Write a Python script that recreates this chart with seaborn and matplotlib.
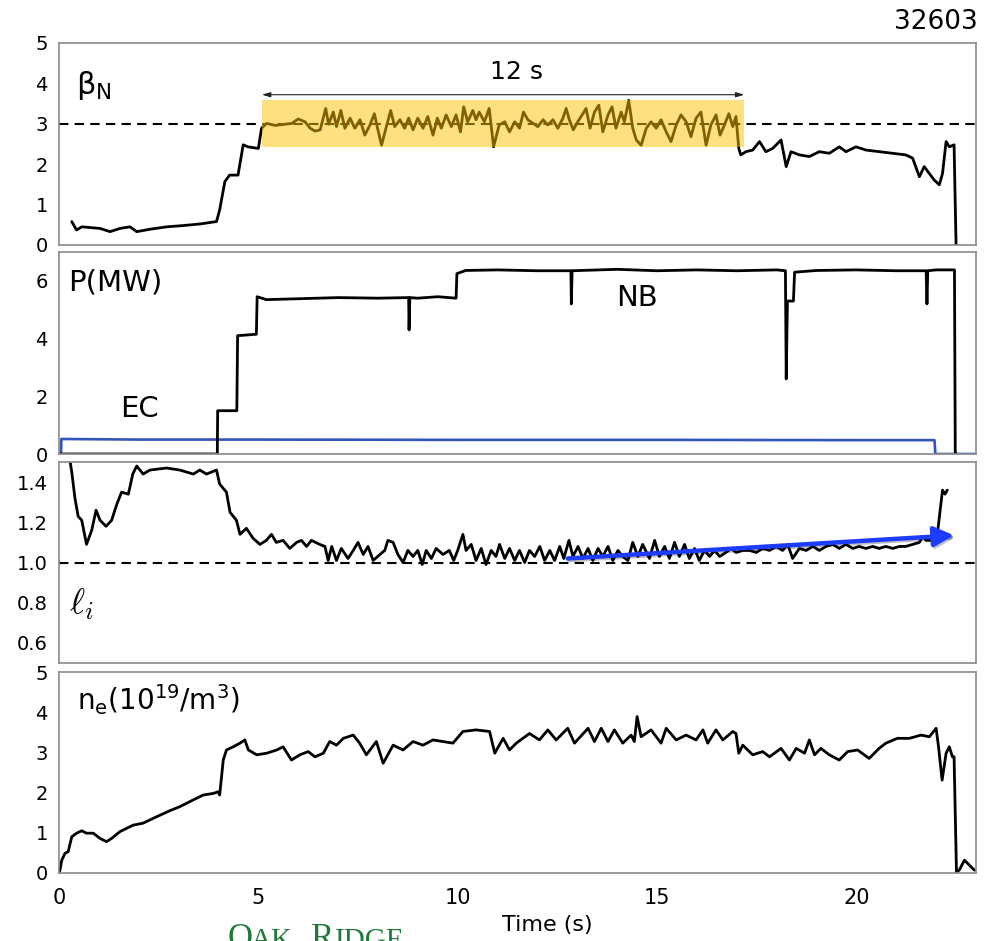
import matplotlib
matplotlib.use("Agg")
import matplotlib.pyplot as plt
import seaborn as sns
from matplotlib.patches import Rectangle
import matplotlib.patheffects as pe

# ---------------- data ----------------
t_beta = [0.32, 0.44, 0.57, 0.80, 1.03, 1.28, 1.53, 1.78, 1.95, 2.28, 2.70, 3.10, 3.53, 3.95,
          4.03, 4.16, 4.28, 4.49, 4.62, 4.74, 5.00, 5.08, 5.21, 5.42, 5.67, 5.84, 6.00, 6.17,
          6.30, 6.42, 6.55, 6.69, 6.76, 6.88, 6.96, 7.07, 7.17, 7.30, 7.42, 7.55, 7.67, 7.80,
          7.91, 7.99, 8.09, 8.20, 8.32, 8.42, 8.55, 8.67, 8.77, 8.88, 9.00, 9.13, 9.25, 9.38,
          9.49, 9.59, 9.71, 9.84, 9.96, 10.07, 10.15, 10.25, 10.38, 10.46, 10.54, 10.67, 10.79,
          10.90, 11.04, 11.18, 11.30, 11.43, 11.55, 11.65, 11.76, 11.89, 12.01, 12.14, 12.26,
          12.39, 12.51, 12.64, 12.72, 12.80, 12.90, 13.01, 13.14, 13.22, 13.32, 13.43, 13.54,
          13.64, 13.77, 13.87, 13.97, 14.10, 14.18, 14.29, 14.39, 14.48, 14.60, 14.73, 14.85,
          14.98, 15.10, 15.23, 15.35, 15.48, 15.60, 15.73, 15.85, 15.98, 16.10, 16.23, 16.35,
          16.48, 16.58, 16.69, 16.80, 16.90, 16.98, 17.05, 17.10, 17.23, 17.40, 17.57, 17.73,
          17.90, 18.11, 18.24, 18.36, 18.57, 18.82, 19.07, 19.32, 19.57, 19.74, 19.99, 20.24,
          20.57, 20.91, 21.24, 21.41, 21.58, 21.70, 21.83, 21.95, 22.08, 22.16, 22.25, 22.33,
          22.45, 22.50]
beta_n = [0.58, 0.37, 0.45, 0.43, 0.41, 0.33, 0.41, 0.45, 0.33, 0.39, 0.45, 0.48, 0.52, 0.58,
          0.87, 1.57, 1.73, 1.73, 2.48, 2.43, 2.39, 2.89, 3.01, 2.96, 2.99, 3.01, 3.12, 3.05,
          2.89, 2.82, 2.85, 3.38, 2.99, 3.29, 2.93, 3.33, 2.89, 3.14, 2.89, 3.10, 2.72, 2.97,
          3.25, 2.89, 2.47, 2.89, 3.33, 2.93, 3.10, 2.89, 3.14, 2.85, 3.14, 2.89, 3.18, 2.72,
          3.14, 2.89, 3.22, 2.93, 3.22, 2.80, 3.42, 3.05, 3.33, 3.10, 3.29, 3.05, 3.38,
          2.43, 2.97, 3.05, 2.80, 3.05, 2.89, 3.29, 3.10, 3.01, 2.93, 3.10, 2.97,
          3.10, 2.89, 3.14, 3.38, 3.10, 2.85, 3.05, 3.25, 3.38, 2.89, 3.29, 3.46,
          2.80, 3.22, 3.42, 2.89, 3.29, 3.05, 3.58, 2.89, 2.60, 2.47, 2.89, 3.05,
          2.89, 3.10, 2.80, 2.56, 2.97, 3.22, 3.05, 2.68, 3.14, 3.29, 2.47, 2.97,
          3.22, 2.72, 2.97, 3.25, 2.93, 3.18, 2.39, 2.23, 2.31, 2.35, 2.56, 2.31,
          2.39, 2.60, 1.94, 2.31, 2.23, 2.19, 2.31, 2.27, 2.43, 2.31, 2.43, 2.35,
          2.31, 2.27, 2.23, 2.15, 1.69, 1.94, 1.77, 1.61, 1.49, 1.77, 2.56, 2.43,
          2.48, 0.0]

t_nb = [0.0, 3.97, 3.98, 4.46, 4.48, 4.95, 4.97, 5.2, 6.0, 7.0, 8.0, 8.77, 8.78, 8.80, 9.0,
        9.5, 9.96, 9.98, 10.2, 11.0, 12.0, 12.84, 12.85, 12.87, 14.0, 15.0, 16.0, 17.0, 18.0,
        18.22, 18.24, 18.27, 18.42, 18.45, 19.0, 20.0, 21.0, 21.75, 21.77, 21.79, 22.0, 22.46,
        22.48, 22.50]
p_nb = [0.0, 0.0, 1.5, 1.5, 4.1, 4.15, 5.45, 5.35, 5.38, 5.42, 5.40, 5.42, 4.3, 5.42, 5.40,
        5.45, 5.40, 6.25, 6.36, 6.38, 6.35, 6.35, 5.2, 6.35, 6.40, 6.35, 6.38, 6.35, 6.38,
        6.35, 2.6, 5.3, 5.3, 6.3, 6.36, 6.38, 6.35, 6.35, 5.2, 6.35, 6.38, 6.38, 0.0, 0.0]

t_ec = [0.0, 0.05, 0.06, 2.0, 5.0, 10.0, 15.0, 20.0, 21.96, 21.98, 23.0]
p_ec = [0.0, 0.0, 0.52, 0.50, 0.50, 0.49, 0.49, 0.48, 0.48, 0.0, 0.0]

t_li = [0.28, 0.32, 0.40, 0.48, 0.57, 0.69, 0.82, 0.93, 1.03, 1.18, 1.32, 1.45, 1.57, 1.74,
        1.85, 1.95, 2.11, 2.28, 2.70, 3.03, 3.37, 3.53, 3.70, 3.95, 4.03, 4.20, 4.29, 4.45,
        4.54, 4.70, 4.87, 5.04, 5.20, 5.33, 5.45, 5.62, 5.79, 5.96, 6.08, 6.21, 6.33, 6.54,
        6.67, 6.75, 6.84, 6.96, 7.08, 7.25, 7.38, 7.50, 7.63, 7.75, 7.88, 8.05, 8.17, 8.25,
        8.38, 8.50, 8.63, 8.75, 8.88, 9.00, 9.11, 9.21, 9.34, 9.46, 9.63, 9.79, 9.90, 10.00,
        10.13, 10.21, 10.34, 10.46, 10.59, 10.71, 10.84, 10.96, 11.05, 11.18, 11.30, 11.43,
        11.55, 11.68, 11.80, 11.93, 12.06, 12.18, 12.31, 12.43, 12.56, 12.66, 12.79, 12.89,
        13.02, 13.14, 13.27, 13.39, 13.52, 13.64, 13.77, 13.89, 14.02, 14.14, 14.27, 14.39,
        14.52, 14.64, 14.81, 14.94, 15.06, 15.19, 15.31, 15.44, 15.56, 15.69, 15.81, 15.94,
        16.06, 16.19, 16.32, 16.44, 16.57, 16.73, 16.86, 16.98, 17.15, 17.32, 17.49, 17.65,
        17.82, 17.99, 18.15, 18.28, 18.40, 18.57, 18.74, 18.91, 19.07, 19.24, 19.41, 19.57,
        19.74, 19.91, 20.07, 20.24, 20.41, 20.57, 20.74, 20.91, 21.08, 21.24, 21.41, 21.58,
        21.66, 21.75, 21.91, 21.99, 22.03, 22.16, 22.22, 22.28]
li = [1.50, 1.45, 1.32, 1.23, 1.21, 1.09, 1.16, 1.26, 1.21, 1.18, 1.21, 1.29, 1.35, 1.34,
      1.44, 1.48, 1.44, 1.46, 1.47, 1.46, 1.44, 1.46, 1.44, 1.46, 1.39, 1.35, 1.25, 1.21,
      1.14, 1.17, 1.12, 1.09, 1.11, 1.14, 1.10, 1.11, 1.07, 1.10, 1.11, 1.08, 1.11, 1.09,
      1.08, 1.01, 1.08, 1.01, 1.07, 1.02, 1.06, 1.10, 1.04, 1.08, 1.01, 1.04, 1.06, 1.11,
      1.10, 1.04, 1.00, 1.06, 1.03, 1.06, 0.99, 1.06, 1.02, 1.07, 1.04, 1.06, 1.01, 1.06,
      1.14, 1.06, 1.09, 1.01, 1.07, 0.99, 1.06, 1.03, 1.09, 1.02, 1.07, 1.01,
      1.06, 1.00, 1.06, 1.03, 1.08, 1.01, 1.06, 1.01, 1.08, 1.02, 1.11, 1.03,
      1.08, 1.02, 1.07, 1.01, 1.07, 1.03, 1.08, 1.01, 1.06, 1.03, 1.01, 1.10,
      1.03, 1.09, 1.02, 1.11, 1.03, 1.08, 1.02, 1.10, 1.03, 1.09, 1.02, 1.07,
      1.01, 1.06, 1.03, 1.06, 1.03, 1.05, 1.07, 1.05, 1.06, 1.06, 1.05, 1.07,
      1.06, 1.08, 1.06, 1.09, 1.02, 1.07, 1.06, 1.08, 1.06, 1.08, 1.09, 1.07,
      1.09, 1.07, 1.08, 1.07, 1.08, 1.07, 1.08, 1.07, 1.08, 1.08, 1.09, 1.10,
      1.13, 1.11, 1.11, 1.15, 1.14, 1.36, 1.34, 1.36]

t_ne = [0.01, 0.07, 0.15, 0.23, 0.32, 0.44, 0.57, 0.69, 0.86, 1.03, 1.19, 1.32, 1.53, 1.86,
        2.11, 2.45, 2.78, 3.03, 3.37, 3.62, 3.87, 3.99, 4.03, 4.12, 4.20, 4.37, 4.54, 4.66,
        4.75, 4.96, 5.21, 5.46, 5.62, 5.83, 6.04, 6.25, 6.42, 6.63, 6.79, 6.96, 7.13, 7.38,
        7.54, 7.71, 7.96, 8.13, 8.38, 8.63, 8.88, 9.13, 9.38, 9.63, 9.88, 10.13, 10.46, 10.80,
        10.93, 11.14, 11.30, 11.47, 11.80, 12.05, 12.26, 12.47, 12.76, 12.93, 13.27, 13.43,
        13.60, 13.77, 13.93, 14.14, 14.35, 14.43, 14.50, 14.60, 14.85, 15.10, 15.23, 15.48,
        15.73, 15.98, 16.15, 16.27, 16.48, 16.65, 16.90, 16.98, 17.05, 17.15, 17.40, 17.65,
        17.82, 18.11, 18.32, 18.49, 18.70, 18.82, 18.95, 19.11, 19.32, 19.57, 19.78, 20.03,
        20.32, 20.57, 20.74, 21.03, 21.33, 21.62, 21.83, 22.00, 22.06, 22.15, 22.25, 22.33,
        22.41, 22.45, 22.51, 22.58, 22.71, 22.83, 22.96]
ne = [0.00, 0.32, 0.49, 0.53, 0.90, 0.99, 1.05, 0.99, 0.99, 0.86, 0.78, 0.86, 1.03, 1.19,
      1.24, 1.40, 1.55, 1.65, 1.82, 1.94, 1.98, 2.02, 1.94, 2.81, 3.06, 3.14, 3.23, 3.31,
      3.06, 2.94, 2.98, 3.06, 3.14, 2.81, 2.94, 3.02, 2.89, 2.98, 3.27, 3.18, 3.35, 3.43,
      3.23, 2.94, 3.27, 2.73, 3.18, 3.06, 3.27, 3.18, 3.31, 3.27, 3.23, 3.52, 3.56, 3.52,
      2.98, 3.35, 3.06, 3.23, 3.47, 3.31, 3.56, 3.31, 3.60, 3.23, 3.60, 3.27,
      3.60, 3.27, 3.56, 3.23, 3.43, 3.27, 3.89, 3.39, 3.56, 3.23, 3.60, 3.31,
      3.43, 3.31, 3.56, 3.23, 3.56, 3.31, 3.52, 3.47, 2.98, 3.18, 2.94, 3.02,
      2.89, 3.10, 2.81, 3.10, 2.98, 3.31, 2.94, 3.10, 2.94, 2.81, 3.02, 3.06,
      2.85, 3.10, 3.23, 3.35, 3.35, 3.43, 3.39, 3.60, 3.14, 2.31, 2.98, 3.14,
      2.89, 2.89, 0.03, 0.07, 0.32, 0.20, 0.07]

x_ticks = [0, 5, 10, 15, 20]
flat_top_start, flat_top_end = 5.09, 17.19
box_low, box_high = 2.43, 3.59
beta_ref = 3.0
li_ref = 1.0
trend_start = (12.76, 1.02)
trend_end = (22.45, 1.135)

# ---------------- figure ----------------
sns.set_style("white")
plt.rcParams["font.family"] = ["DejaVu Sans"]
plt.rcParams["text.color"] = "black"
plt.rcParams["xtick.labelcolor"] = "black"
plt.rcParams["ytick.labelcolor"] = "black"
W, H = 984, 941
fig = plt.figure(figsize=(W / 100, H / 100), dpi=100)

def mk(top, bottom):
    return fig.add_axes([59 / W, (H - bottom) / H, (976 - 59) / W, (bottom - top) / H])

ax1 = mk(43, 245)
ax2 = mk(252, 454)
ax3 = mk(462, 663)
ax4 = mk(672, 873)

spine_c = "#8a8a8a"
for ax in (ax1, ax2, ax3, ax4):
    ax.set_xlim(0, 23)
    ax.set_xticks(x_ticks)
    for s in ax.spines.values():
        s.set_color(spine_c)
        s.set_linewidth(1.2)
    ax.tick_params(axis="both", direction="out", length=6, width=1.1, color=spine_c,
                   labelsize=14, pad=2, labelcolor="black")
    ax.tick_params(axis="x", labelsize=15, pad=5)
    ax.set_xlabel("")
    ax.set_ylabel("")
for ax in (ax1, ax2, ax3):
    ax.tick_params(axis="x", labelbottom=False)

lw = 2.0
# panel 1: beta_N
sns.lineplot(x=t_beta, y=beta_n, ax=ax1, color="black", lw=lw, estimator=None, sort=False)
ax1.axhline(beta_ref, color="black", lw=1.5, ls=(0, (4.5, 3)), zorder=1)
ax1.add_patch(Rectangle((flat_top_start, box_low), flat_top_end - flat_top_start,
                        box_high - box_low, facecolor=(1.0, 0.76, 0.0), alpha=0.5,
                        edgecolor="none", zorder=5))
ax1.annotate("", xy=(flat_top_start, 3.72), xytext=(flat_top_end, 3.72),
             arrowprops=dict(arrowstyle="<|-|>,head_length=0.5,head_width=0.15",
                             color="#222222", lw=0.8, shrinkA=0, shrinkB=0), zorder=6)
ax1.text(11.48, 4.27, "12 s", fontsize=18, ha="center", va="center")
ax1.text(0.42, 3.95, r"$\mathregular{β_N}$", fontsize=22, ha="left", va="center")
ax1.set_ylim(0, 5)
ax1.set_yticks([0, 1, 2, 3, 4, 5])

# panel 2: power
sns.lineplot(x=t_ec, y=p_ec, ax=ax2, color="#3355bb", lw=1.9, estimator=None, sort=False)
sns.lineplot(x=t_nb, y=p_nb, ax=ax2, color="black", lw=lw, estimator=None, sort=False)
ax2.set_ylim(0, 7)
ax2.set_yticks([0, 2, 4, 6])
ax2.text(0.22, 5.95, "P(MW)", fontsize=21, ha="left", va="center")
ax2.text(2.03, 1.55, "EC", fontsize=21, ha="center", va="center")
ax2.text(14.49, 5.4, "NB", fontsize=21, ha="center", va="center")

# panel 3: li
sns.lineplot(x=t_li, y=li, ax=ax3, color="black", lw=lw, estimator=None, sort=False)
ax3.axhline(li_ref, color="black", lw=1.5, ls=(0, (4.5, 3)), zorder=1)
ax3.set_ylim(0.5, 1.5)
ax3.set_yticks([0.6, 0.8, 1.0, 1.2, 1.4])
ax3.set_yticklabels(["0.6", "0.8", "1.0", "1.2", "1.4"])
ax3.annotate("", xy=trend_end, xytext=trend_start,
             arrowprops=dict(arrowstyle="-|>,head_length=0.6,head_width=0.3",
                             mutation_scale=20, color="#1c3cff", lw=3.2,
                             shrinkA=0, shrinkB=0,
                             path_effects=[pe.SimpleLineShadow(offset=(1.2, -1.2), alpha=0.25),
                                           pe.Normal()]),
             zorder=6)
ax3.text(0.25, 0.79, r"$\ell_i$", fontsize=26, ha="left", va="center", math_fontfamily="cm")

# panel 4: ne
sns.lineplot(x=t_ne, y=ne, ax=ax4, color="black", lw=lw, estimator=None, sort=False)
ax4.set_ylim(0, 5)
ax4.set_yticks([0, 1, 2, 3, 4, 5])
ax4.text(0.45, 4.3, r"n$_\mathregular{e}$(10$^\mathregular{19}$/m$^\mathregular{3}$)",
         fontsize=20, ha="left", va="center")

fig.text(547 / W, 1 - 925 / H, "Time (s)", fontsize=16, ha="center", va="center")
fig.text(978 / W, 1 - 22 / H, "32603", fontsize=19, ha="right", va="center")

# partial logo text at the bottom edge (cropped in the reference)
green = "#1f7a3a"
logo_font = "Liberation Serif"
base = 1 - 948 / H
fig.text(228 / W, base, "O", fontsize=25, color=green, family=logo_font,
         ha="left", va="baseline")
fig.text(251 / W, base, "AK", fontsize=21, color=green, family=logo_font,
         ha="left", va="baseline")
fig.text(311 / W, base, "R", fontsize=25, color=green, family=logo_font,
         ha="left", va="baseline")
fig.text(335 / W, base, "IDGE", fontsize=21, color=green, family=logo_font,
         ha="left", va="baseline")

fig.savefig("out.png", dpi=100)
